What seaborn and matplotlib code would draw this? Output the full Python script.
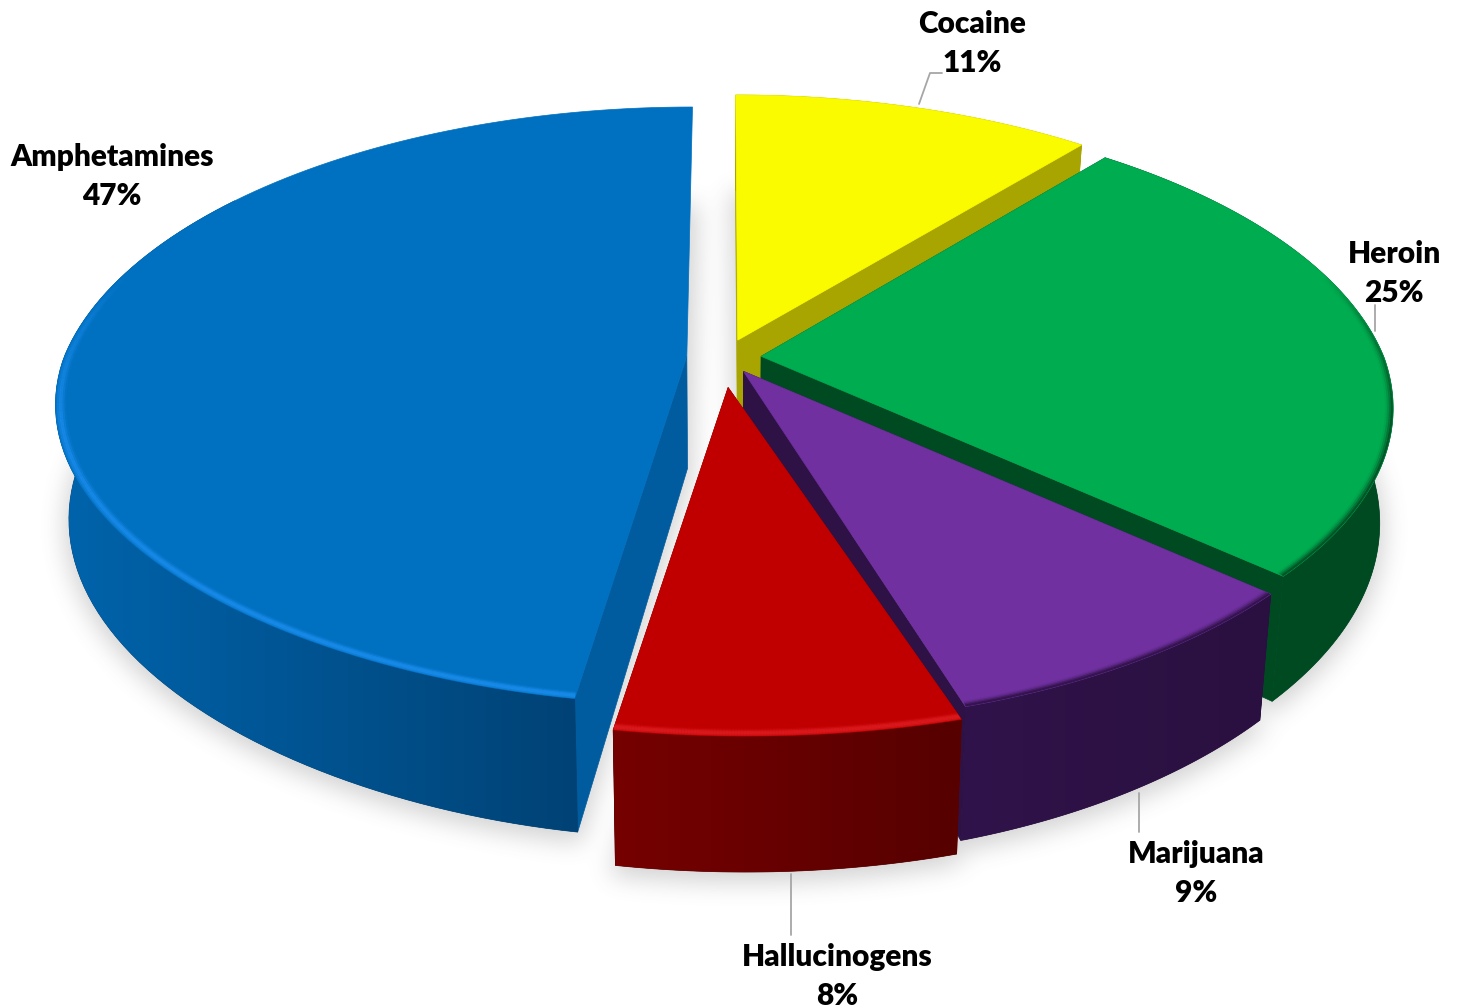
import numpy as np
import matplotlib
matplotlib.use('Agg')
import matplotlib.pyplot as plt
from matplotlib.backends.backend_agg import FigureCanvasAgg
from matplotlib.figure import Figure
from matplotlib.patches import Polygon
import seaborn as sns

# Data
drugs = ['Cocaine', 'Heroin', 'Marijuana', 'Hallucinogens', 'Amphetamines']
shares = [11, 25, 9, 8, 47]

# Styles per slice
top_colors = ['#fbfb00', '#00ac50', '#7030a0', '#c00000', '#0070c0']
side_light = ['#a8a500', '#004c24', '#30134a', '#760000', '#0064ac']
side_dark = ['#a8a500', '#004a22', '#2a1040', '#560000', '#004275']
cut_colors = ['#a8a500', '#004a22', '#2e1245', '#760000', '#005c9f']
rim_colors = [None, '#004a22', '#2e1245', '#dc1c20', '#1a8cec']
rim_light = [False, False, False, True, True]
explode = [0.066, 0.06, 0.055, 0.10, 0.06]
radius = [1.0, 1.0, 0.995, 0.97, 1.0]
widen = [1.0, 1.0, 1.015, 1.1, 1.0]

W, H = 1459, 1008
CX, CY = 724, 358
RX, RY = 623, 291
TILT_X, TILT_Y = 0.18, 0.165
FRONT_PINCH, FRONT_SHIFT, FRONT_BULGE = 0.13, 15, 30
DEPTH = 112
SHRINK = 0.02

sns.set_theme(style='white')
plt.rcParams['font.family'] = ['Lato', 'DejaVu Sans']


def project(u, v, z=0.0):
    # plane coords -> pixels, z=1 is the underside of the pie
    front = np.minimum(v, 0) ** 2
    x = RX * u / (1.0 + TILT_X * v) * (1 - FRONT_PINCH * front) + FRONT_SHIFT * front
    p = 1.0 / (1.0 + TILT_Y * v)
    y = -RY * v * p + FRONT_BULGE * u ** 2 * np.sqrt(front)
    return CX + x * (1 - SHRINK * z), CY + y + DEPTH * p * z


angles = np.cumsum([0] + shares) / sum(shares) * 2 * np.pi


def arc_uv(i, scale=1.0, n=120):
    t = np.linspace(angles[i], angles[i + 1], n)
    mid = (angles[i] + angles[i + 1]) / 2
    u0, v0 = explode[i] * np.sin(mid), explode[i] * np.cos(mid)
    r = radius[i] * scale
    return u0 + r * widen[i] * np.sin(t), v0 + r * np.cos(t), u0, v0


def outline(i, z=0.0):
    u, v, u0, v0 = arc_uv(i)
    x, y = project(np.r_[u0, u], np.r_[v0, v], z)
    return np.column_stack([x, y])


def soft_shadow():
    # render the footprints apart so the blur can be done on a mask
    f = Figure(figsize=(W / 100, H / 100), dpi=100, facecolor='black')
    canvas = FigureCanvasAgg(f)
    a = f.add_axes([0, 0, 1, 1])
    a.set_xlim(0, W)
    a.set_ylim(H, 0)
    a.axis('off')
    for i in range(len(shares)):
        xy = outline(i, 1.0) + [0, 6]
        a.add_patch(Polygon(xy, fc='white', ec='white', lw=6))
    canvas.draw()
    mask = np.asarray(canvas.buffer_rgba())[:, :, 0] / 255.0
    size = 23
    kernel = np.ones(size) / size
    for _ in range(3):
        mask = np.apply_along_axis(np.convolve, 0, mask, kernel, mode='same')
        mask = np.apply_along_axis(np.convolve, 1, mask, kernel, mode='same')
    rgba = np.zeros((H, W, 4))
    rgba[:, :, :3] = 0.35
    rgba[:, :, 3] = mask * 0.27
    return rgba


fig = plt.figure(figsize=(W / 100, H / 100), dpi=100, facecolor='white')
ax = fig.add_axes([0, 0, 1, 1])
ax.imshow(soft_shadow(), extent=(0, W, H, 0), aspect='auto', zorder=0)

# painter's order, back to front
order = [4, 0, 1, 2, 3]
for i in order:
    u, v, u0, v0 = arc_uv(i)
    zo = 2 + order.index(i)
    xt, yt = project(u, v, 0)
    xb, yb = project(u, v, 1)
    ax0, ay0 = project(u0, v0, 0)
    bx0, by0 = project(u0, v0, 1)

    # cut faces (the big slice's rear cut faces away from the viewer)
    for k in ((0,) if i == 4 else (0, -1)):
        quad = [(ax0, ay0), (xt[k], yt[k]), (xb[k], yb[k]), (bx0, by0)]
        ax.add_patch(Polygon(quad, fc=cut_colors[i], ec=cut_colors[i], lw=0.5, zorder=zo))

    # outer wall with a left to right gradient clipped to its shape
    # the rear of the big slice stays hidden, otherwise it pokes out past the cut
    keep = v < 0.6 if i == 4 else np.ones(len(v), dtype=bool)
    wx, wy = np.r_[xt[keep], xb[keep][::-1]], np.r_[yt[keep], yb[keep][::-1]]
    wall = Polygon(np.column_stack([wx, wy]), fc=side_dark[i], ec=side_dark[i], lw=0.5, zorder=zo)
    ax.add_patch(wall)
    wall_cmap = sns.blend_palette([side_light[i], side_dark[i]], 64, as_cmap=True)
    grad = ax.imshow(np.linspace(0, 1, 256)[None, :], cmap=wall_cmap, aspect='auto', zorder=zo,
                     extent=(wx.min(), wx.max(), wy.max(), wy.min()))
    grad.set_clip_path(wall)

    # top face
    top = Polygon(outline(i), fc=top_colors[i], ec=top_colors[i], lw=0.5, zorder=zo)
    ax.add_patch(top)

    # soft bevel along the front edge
    if rim_colors[i] is not None:
        if rim_light[i]:
            bands = [(0.998, 0.2), (0.995, 0.5), (0.992, 0.7), (0.989, 0.4), (0.986, 0.15)]
        else:
            bands = [(0.999, 0.8), (0.996, 0.45), (0.993, 0.22), (0.990, 0.08)]
        for scale, strength in bands:
            ur, vr, _, _ = arc_uv(i, scale=scale)
            xr, yr = project(ur, vr, 0)
            for k in range(len(ur) - 1):
                fade = np.clip((0.3 - vr[k]) / 0.5, 0, 1)
                seg, = ax.plot(xr[k:k + 2], yr[k:k + 2], color=rim_colors[i], lw=2.5,
                               alpha=strength * fade, solid_capstyle='butt', zorder=zo)
                seg.set_clip_path(top)

ax.set_xlim(0, W)
ax.set_ylim(H, 0)
ax.axis('off')

# Leader lines
leaders = [([942, 930, 919], [73, 73, 104]),
           ([1375, 1375], [305, 331]),
           ([1139, 1139], [793, 832]),
           ([791, 791], [874, 935])]
for lx, ly in leaders:
    ax.plot(lx, ly, color='#a6a6a6', lw=1.3, zorder=10)

# Data labels
label_pos = [(972, 24), (1394, 254), (1196, 854), (837, 957), (112, 157)]
for name, val, (lx, ly) in zip(drugs, shares, label_pos):
    ax.text(lx, ly, name, ha='center', va='center', fontsize=21.5, fontweight='heavy',
            color='black', zorder=11)
    ax.text(lx, ly + 39, f'{val}%', ha='center', va='center', fontsize=21.5, fontweight='heavy',
            color='black', zorder=11)

fig.savefig('out.png', dpi=100, facecolor='white')
